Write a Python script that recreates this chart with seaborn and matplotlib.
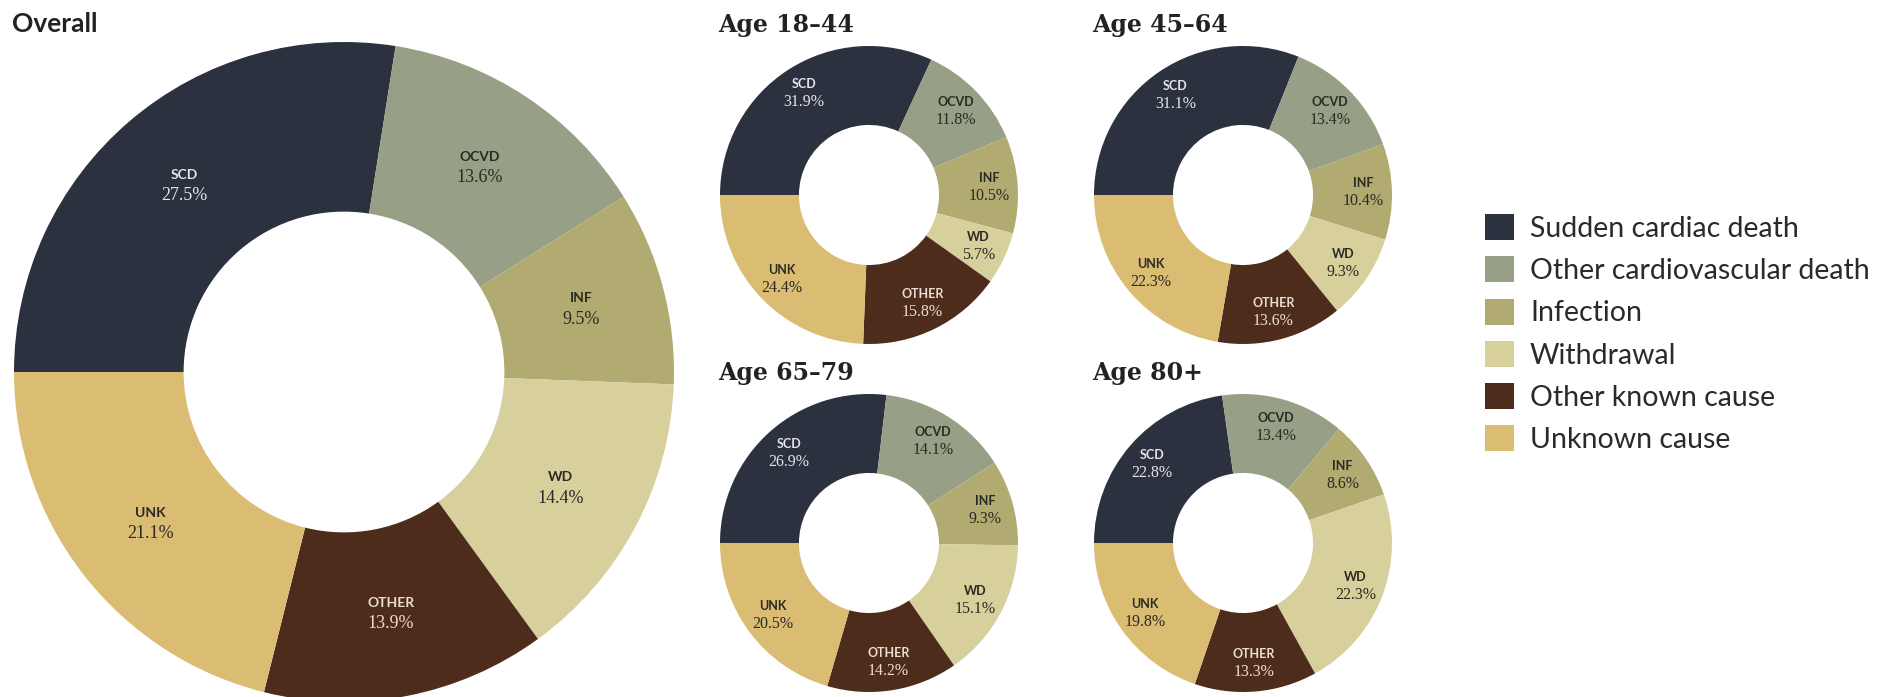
import matplotlib
matplotlib.use("Agg")
import matplotlib.pyplot as plt
from matplotlib.patches import Patch
import numpy as np
import pandas as pd
import seaborn as sns

# ---- data ---------------------------------------------------------------
causes = ["Sudden cardiac death", "Other cardiovascular death", "Infection",
          "Withdrawal", "Other known cause", "Unknown cause"]
short_names = ["SCD", "OCVD", "INF", "WD", "OTHER", "UNK"]

overall = [27.5, 13.6, 9.5, 14.4, 13.9, 21.1]
age_18_44 = [31.9, 11.8, 10.5, 5.7, 15.8, 24.4]
age_45_64 = [31.1, 13.4, 10.4, 9.3, 13.6, 22.3]
age_65_79 = [26.9, 14.1, 9.3, 15.1, 14.2, 20.5]
age_80_plus = [22.8, 13.4, 8.6, 22.3, 13.3, 19.8]

panel_titles = ["Overall", "Age 18–44", "Age 45–64", "Age 65–79", "Age 80+"]

colors = ["#2c3140", "#97a087", "#b1ab72", "#d7cf9c", "#4d2c1b", "#dbbc73"]
label_colors = ["#e4e4ea", "#2a2a22", "#2a2a22", "#2a2a22", "#ecdcd2", "#2a2a22"]

df = pd.DataFrame({"cause": causes, "short": short_names,
                   "Overall": overall, "Age 18–44": age_18_44,
                   "Age 45–64": age_45_64, "Age 65–79": age_65_79,
                   "Age 80+": age_80_plus})

# ---- style ----------------------------------------------------------------
sns.set_theme(style="white")
palette = sns.color_palette(colors)
plt.rcParams["font.family"] = ["Lato", "DejaVu Sans"]

W, H = 1883, 697
fig = plt.figure(figsize=(W / 100, H / 100), dpi=100)


def donut_axes(cx, cy, r):
    """Square axes centred on (cx, cy) in pixels, spanning radius r."""
    return fig.add_axes([(cx - r) / W, (H - cy - r) / H, 2 * r / W, 2 * r / H])


def draw_donut(ax, values, hole, label_r, pct_size, name_size, gap):
    wedges, _ = ax.pie(values, colors=palette, startangle=180,
                       counterclock=False, radius=1.0,
                       wedgeprops=dict(width=1 - hole, linewidth=0))
    for w, name, val, tc in zip(wedges, df["short"], values, label_colors):
        mid = np.deg2rad((w.theta1 + w.theta2) / 2)
        x, y = label_r * np.cos(mid), label_r * np.sin(mid)
        ax.annotate(name, (x, y), xytext=(0, gap), textcoords="offset points",
                    ha="center", va="center", color=tc, fontsize=name_size,
                    fontweight="bold", family=["Lato", "DejaVu Sans"])
        ax.annotate(f"{val:.1f}%", (x, y), xytext=(0, -gap),
                    textcoords="offset points", ha="center", va="center",
                    color=tc, fontsize=pct_size,
                    family=["Liberation Serif", "DejaVu Serif"])
    ax.set_xlim(-1, 1)
    ax.set_ylim(-1, 1)
    ax.set_aspect("equal")
    ax.axis("off")


# large overall donut
ax0 = donut_axes(344, 372, 330)
draw_donut(ax0, df["Overall"].tolist(), 0.486, 0.745, 13, 10, 7.5)
fig.text(12 / W, 1 - 32 / H, panel_titles[0], fontsize=19, fontweight="bold",
         color="#222222", va="baseline", ha="left")

# age-group donuts
small = [("Age 18–44", 869, 195), ("Age 45–64", 1243, 195),
         ("Age 65–79", 869, 543), ("Age 80+", 1243, 543)]
for title, cx, cy in small:
    ax = donut_axes(cx, cy, 149)
    draw_donut(ax, df[title].tolist(), 0.47, 0.81, 11.5, 9, 6.5)
    fig.text((cx - 151) / W, 1 - (cy - 163) / H, title, fontsize=17,
             fontweight="bold", color="#222222", va="baseline", ha="left",
             family=["DejaVu Serif"])

# legend
handles = [Patch(facecolor=c, edgecolor="none") for c in colors]
fig.legend(handles, causes, loc="upper left",
           bbox_to_anchor=(1485 / W, 1 - 214 / H), frameon=False,
           fontsize=20.5, handlelength=1.03, handleheight=1.03,
           handletextpad=0.55, labelspacing=0.51, borderpad=0, borderaxespad=0,
           labelcolor="#2a2a2a")

fig.savefig("out.png", dpi=100, facecolor="white")
